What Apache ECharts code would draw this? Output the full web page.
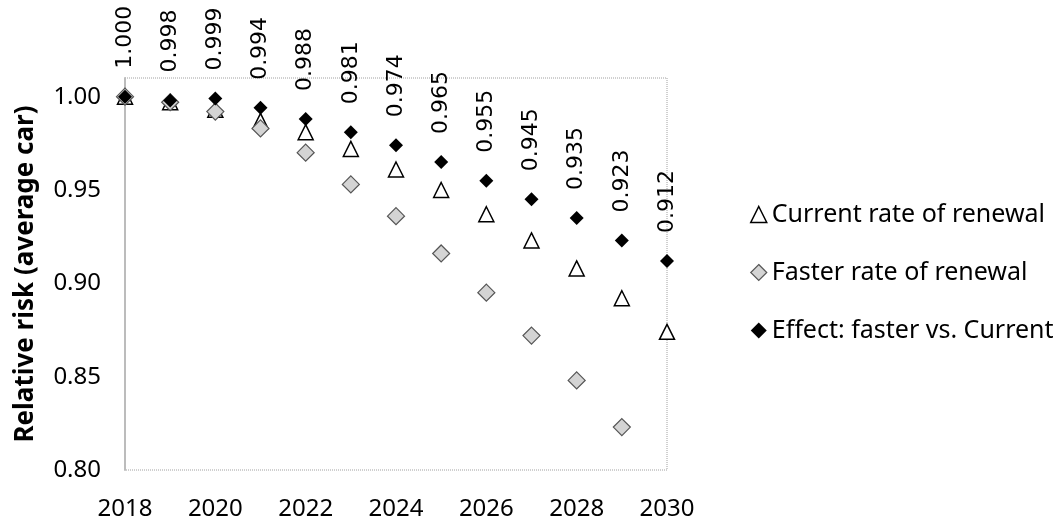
<!DOCTYPE html>
<html>
<head>
<meta charset="utf-8">
<script src="https://cdn.jsdelivr.net/npm/echarts@6/dist/echarts.min.js"></script>
<style>
html,body{margin:0;padding:0;background:#fff;}
#chart{width:1064px;height:523px;}
</style>
</head>
<body>
<div id="chart"></div>
<script>
var years = [2018, 2019, 2020, 2021, 2022, 2023, 2024, 2025, 2026, 2027, 2028, 2029, 2030];
var currentRate = [1.000, 0.997, 0.993, 0.987, 0.981, 0.972, 0.961, 0.950, 0.937, 0.923, 0.908, 0.892, 0.874];
var fasterRate = [1.000, 0.997, 0.992, 0.983, 0.970, 0.953, 0.936, 0.916, 0.895, 0.872, 0.848, 0.823, null];
var effect = [1.000, 0.998, 0.999, 0.994, 0.988, 0.981, 0.974, 0.965, 0.955, 0.945, 0.935, 0.923, 0.912];
var seriesNames = ['Current rate of renewal', 'Faster rate of renewal', 'Effect: faster vs. Current'];
var yTitle = 'Relative risk (average car)';

function pairs(vals) {
  var out = [];
  for (var i = 0; i < years.length; i++) {
    out.push(vals[i] === null ? [years[i], '-'] : [years[i], vals[i]]);
  }
  return out;
}

var chart = echarts.init(document.getElementById('chart'));
var uiFont = 'Noto Sans';
chart.setOption({
  animation: false,
  backgroundColor: '#fff',
  grid: {
    left: 125, right: 397, top: 78, bottom: 53,
    show: true, borderColor: '#a0a0a0', borderWidth: 1, borderType: 'dotted'
  },
  legend: {
    orient: 'vertical',
    left: 745, top: 197,
    itemGap: 33,
    itemWidth: 16, itemHeight: 16,
    textStyle: { fontFamily: uiFont, fontSize: 25, color: '#000' },
    data: [
      { name: seriesNames[0], icon: 'triangle', itemStyle: { color: '#fff', borderColor: '#000', borderWidth: 1.5 } },
      { name: seriesNames[1], icon: 'diamond', itemStyle: { color: '#d4d4d4', borderColor: '#555', borderWidth: 1.2 } },
      { name: seriesNames[2], icon: 'diamond', itemStyle: { color: '#000', borderColor: '#000' } }
    ]
  },
  xAxis: {
    type: 'value', min: 2018, max: 2030, interval: 2,
    axisLine: { show: false },
    axisTick: { show: false },
    splitLine: { show: false },
    axisLabel: {
      fontFamily: uiFont, fontSize: 24, color: '#000', margin: 27,
      formatter: function (v) { return String(v); }
    }
  },
  yAxis: {
    type: 'value', min: 0.8, max: 1.01, interval: 0.05,
    name: yTitle, nameLocation: 'middle', nameGap: 86,
    nameTextStyle: { fontFamily: uiFont, fontSize: 26, fontWeight: 'bold', color: '#000' },
    axisLine: { show: true, lineStyle: { color: '#bcbcbc', width: 2 } },
    axisTick: { show: false },
    splitLine: { show: false },
    axisLabel: {
      fontFamily: uiFont, fontSize: 24, color: '#000', margin: 24, showMaxLabel: false,
      formatter: function (v) { return v.toFixed(2); }
    }
  },
  series: [
    {
      name: seriesNames[0], type: 'scatter', symbol: 'triangle', symbolSize: 15, z: 2,
      itemStyle: { color: '#fff', borderColor: '#000', borderWidth: 1.5, opacity: 1 },
      data: pairs(currentRate)
    },
    {
      name: seriesNames[1], type: 'scatter', symbol: 'diamond', symbolSize: 17, z: 3,
      itemStyle: { color: '#d4d4d4', borderColor: '#555', borderWidth: 1.2, opacity: 1 },
      data: pairs(fasterRate)
    },
    {
      name: seriesNames[2], type: 'scatter', symbol: 'diamond', symbolSize: 14, z: 4,
      itemStyle: { color: '#000', opacity: 1 },
      label: {
        show: true, position: 'top', distance: 21, rotate: 90,
        align: 'left', verticalAlign: 'middle',
        fontFamily: 'DejaVu Sans', fontSize: 22, color: '#000',
        formatter: function (p) { return p.value[1].toFixed(3); }
      },
      data: pairs(effect)
    }
  ]
});
</script>
</body>
</html>
